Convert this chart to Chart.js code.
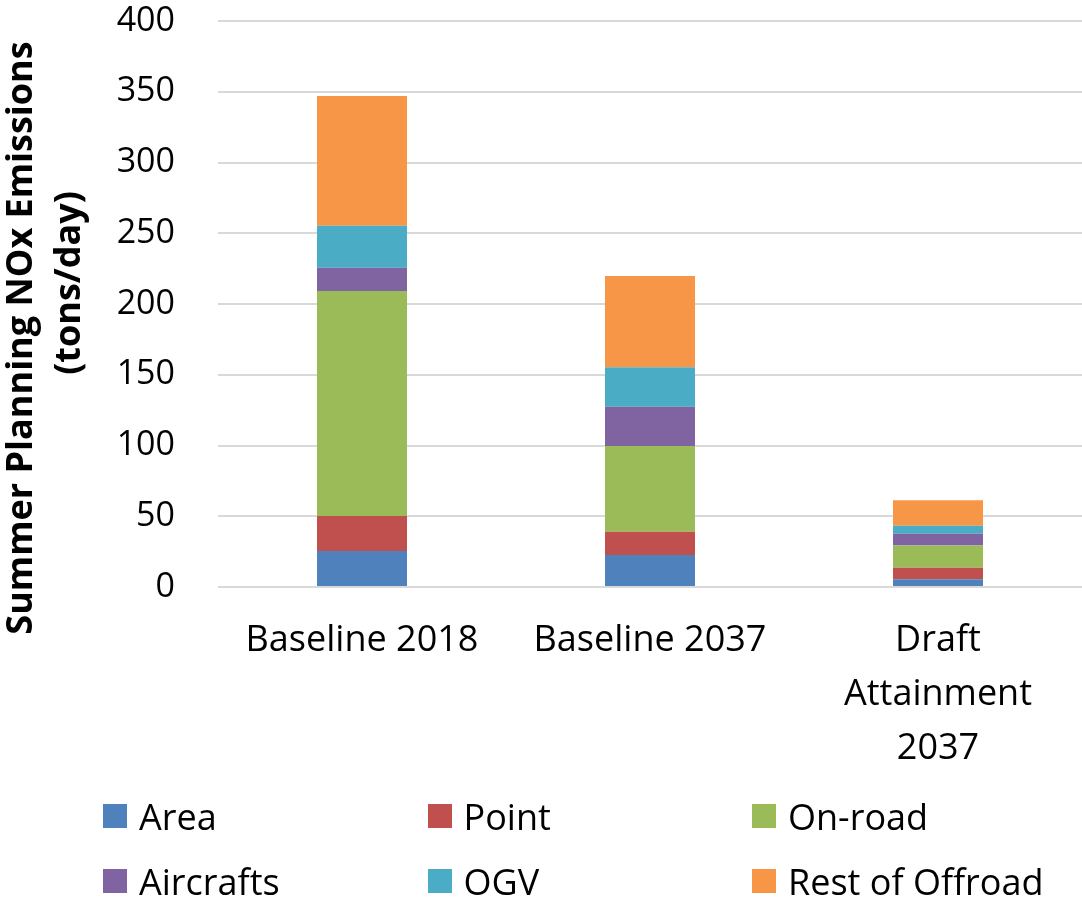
<!DOCTYPE html>
<html>
<head>
<meta charset="utf-8">
<script src="https://cdn.jsdelivr.net/npm/chart.js@4.4.1/dist/chart.umd.min.js"></script>
<style>
  html, body { margin: 0; padding: 0; background: #fff; }
  #contenedor { position: relative; width: 1082px; height: 902px; }
  #grafico { position: absolute; left: 0; top: 0; }
  #leyenda {
    position: absolute; left: 103px; top: 797px;
    display: grid; grid-template-columns: 324.5px 324.5px 324.5px;
    grid-auto-rows: 65px;
    font-family: "Open Sans", sans-serif; font-size: 36px; color: #000;
  }
  .item { display: flex; align-items: center; height: 38px; white-space: nowrap; }
  .caja { width: 24px; height: 24px; margin-right: 12px; flex: none; }
</style>
</head>
<body>
<div id="contenedor">
  <canvas id="grafico" width="1082" height="902"></canvas>
  <div id="leyenda"></div>
</div>
<script>
// Categorías del eje X (arreglo = etiqueta en varias líneas)
const escenarios = ["Baseline 2018", "Baseline 2037", ["Draft", "Attainment", "2037"]];

// Emisiones NOx por fuente (tons/day)
const area = [25.4, 22.6, 5.4];
const point = [24.8, 16.5, 8.2];
const onRoad = [159.0, 60.5, 15.8];
const aircrafts = [16.4, 27.8, 8.3];
const ogv = [29.7, 27.9, 5.6];
const restOffroad = [91.7, 64.5, 18.0];

const fuentes = ["Area", "Point", "On-road", "Aircrafts", "OGV", "Rest of Offroad"];
const colores = ["#4f81bd", "#c0504d", "#9bbb59", "#8064a2", "#4bacc6", "#f79646"];
const valores = [area, point, onRoad, aircrafts, ogv, restOffroad];

const tituloY = ["Summer Planning NOx Emissions", "(tons/day)"];

const fuente = "'Open Sans', sans-serif";

// Título del eje Y dibujado a mano (dos líneas giradas)
const tituloEjeY = {
  id: 'tituloEjeY',
  afterDraw(chart) {
    const ctx = chart.ctx;
    ctx.save();
    ctx.fillStyle = '#000';
    ctx.font = "bold 36px " + fuente;
    ctx.textAlign = 'center';
    ctx.textBaseline = 'alphabetic';
    const lineas = [{ x: 32, y: 338 }, { x: 80, y: 283 }];
    tituloY.forEach((txt, i) => {
      ctx.save();
      ctx.translate(lineas[i].x, lineas[i].y);
      ctx.rotate(-Math.PI / 2);
      ctx.fillText(txt, 0, 0);
      ctx.restore();
    });
    ctx.restore();
  }
};

const ctx = document.getElementById('grafico').getContext('2d');
const grafico = new Chart(ctx, {
  type: 'bar',
  data: {
    labels: escenarios,
    datasets: fuentes.map((nombre, i) => ({
      label: nombre,
      data: valores[i],
      backgroundColor: colores[i],
      borderWidth: 0,
      barPercentage: 0.3125,
      categoryPercentage: 1
    }))
  },
  options: {
    responsive: false,
    animation: false,
    layout: { padding: { top: 21, right: 0, bottom: 0, left: 0 } },
    plugins: { legend: { display: false }, tooltip: { enabled: false } },
    scales: {
      x: {
        stacked: true,
        grid: { display: false, drawTicks: false },
        border: { display: false },
        ticks: {
          color: '#000', maxRotation: 0, autoSkip: false, padding: 27,
          font: { family: fuente, size: 36, lineHeight: 1.5 }
        },
        afterFit(scale) { scale.height = 315; }
      },
      y: {
        stacked: true,
        min: 0, max: 400,
        grid: { color: '#d9d9d9', lineWidth: 2, drawTicks: false },
        border: { display: false },
        ticks: {
          stepSize: 50, color: '#000', padding: 43,
          font: { family: fuente, size: 34 }
        },
        afterFit(scale) {
          scale.width = 218;
          // sin margen extra arriba/abajo: lo da layout.padding
          scale.paddingTop = 0;
          scale.paddingBottom = 0;
        }
      }
    }
  },
  plugins: [tituloEjeY]
});

// Leyenda en HTML con tres columnas
const leyenda = document.getElementById('leyenda');
grafico.data.datasets.forEach(ds => {
  const item = document.createElement('div');
  item.className = 'item';
  const caja = document.createElement('span');
  caja.className = 'caja';
  caja.style.background = ds.backgroundColor;
  const texto = document.createElement('span');
  texto.textContent = ds.label;
  item.appendChild(caja);
  item.appendChild(texto);
  leyenda.appendChild(item);
});
</script>
</body>
</html>
